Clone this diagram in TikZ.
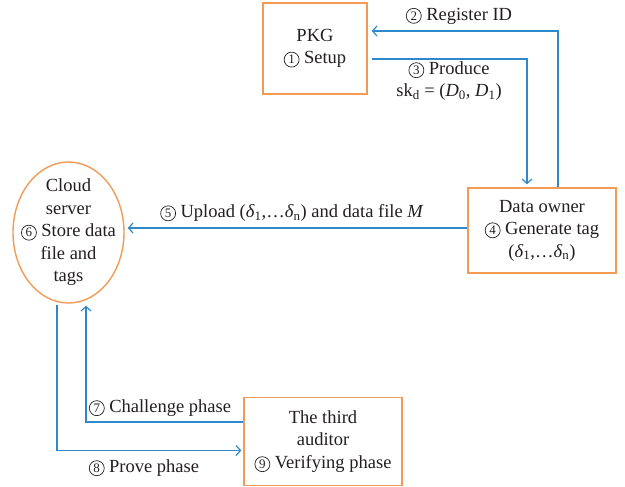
\documentclass[tikz,border=0pt]{standalone}
\usepackage{fontspec}
\setmainfont{Liberation Serif}
\usepackage{xcolor}
\usetikzlibrary{positioning,arrows.meta,calc,shapes.geometric}
\definecolor{ink}{HTML}{231F20}
\definecolor{cBox}{HTML}{F39A55}
\definecolor{cLine}{HTML}{2E88C9}
\newcommand\cnum[1]{\tikz[baseline=(cn.base)]\node[circle, draw=ink, line width=0.7pt, inner sep=0pt,
  minimum size=15pt, font=\fontsize{13}{13}\selectfont] (cn) {#1};}
\tikzset{
  blk/.style  = {align=center, text=ink, font=\fontsize{18.5}{22.5}\selectfont, inner sep=0pt},
  party/.style = {blk, draw=cBox, line width=1.4pt},
  cloudy/.style = {blk, ellipse, draw=cBox, line width=1.4pt, inner xsep=-20pt, inner ysep=-10pt},
  lab/.style  = {align=center, text=ink, font=\fontsize{18.5}{22}\selectfont, inner sep=0pt},
  ar/.style   = {-{Straight Barb[length=4.5pt,width=10pt]}, line width=1.2pt, draw=cLine},
}
\begin{document}
\begin{tikzpicture}[x=1pt,y=-1pt]
  \useasboundingbox (0,0) rectangle (625,487);
  % ---------------- parties ----------------
  \node[party, minimum width=104pt, minimum height=91pt] (pkg) at (315,48.5) {PKG\\\cnum{1} Setup};
  \node[party, minimum width=148pt, minimum height=85pt] (owner) at (542,230.5)
       {Data owner\\\cnum{4} Generate tag\\(\textit{δ}\textsubscript{1},…\textit{δ}\textsubscript{n})};
  \node[cloudy, minimum width=111pt, minimum height=141pt] (cloud) at (68.5,232.5)
       {Cloud\\server\\\cnum{6} Store data\\file and\\tags};
  \node[party, minimum width=158pt, minimum height=88pt] (auditor) at (323,441.5)
       {The third\\auditor\\\cnum{9} Verifying phase};

  % key generation
  \coordinate (regT) at ($(pkg.east)+(4,-17.5)$);
  \draw[ar] ($(owner.north)+(16,0)$) |- (regT);
  \node[lab] (regL) at (459,16) {\cnum{2} Register ID};
  \coordinate (prodS) at ($(pkg.east)+(4,10.5)$);
  \coordinate (ownT) at ($(owner.north)+(-15,-3)$);
  \draw[ar] (prodS) -| (ownT);
  \node[lab] (prodL) at (449,81) {\cnum{3} Produce\\sk\textsubscript{d} = (\textit{D}\textsubscript{0}, \textit{D}\textsubscript{1})};

  % upload
  \coordinate (upT) at ($(owner.west -| cloud.east)+(3,-2.5)$);
  \draw[ar] ($(owner.west)+(0,-2.5)$) -- (upT);
  \node[lab] (upL) at (292,213) {\cnum{5} Upload (\textit{δ}\textsubscript{1},…\textit{δ}\textsubscript{n}) and data file \textit{M}};

  % audit
  \draw[ar] ($(auditor.west)+(0,-19.5)$) -| ($(cloud.south)+(17.5,2)$);
  \node[lab] (chL) at (160,408) {\cnum{7} Challenge phase};
  \draw[ar] ($(cloud.south)+(-11.5,1)$) |- ($(auditor.west)+(-2,9)$);
  \node[lab] (prL) at (144,468) {\cnum{8} Prove phase};
\end{tikzpicture}
\end{document}
